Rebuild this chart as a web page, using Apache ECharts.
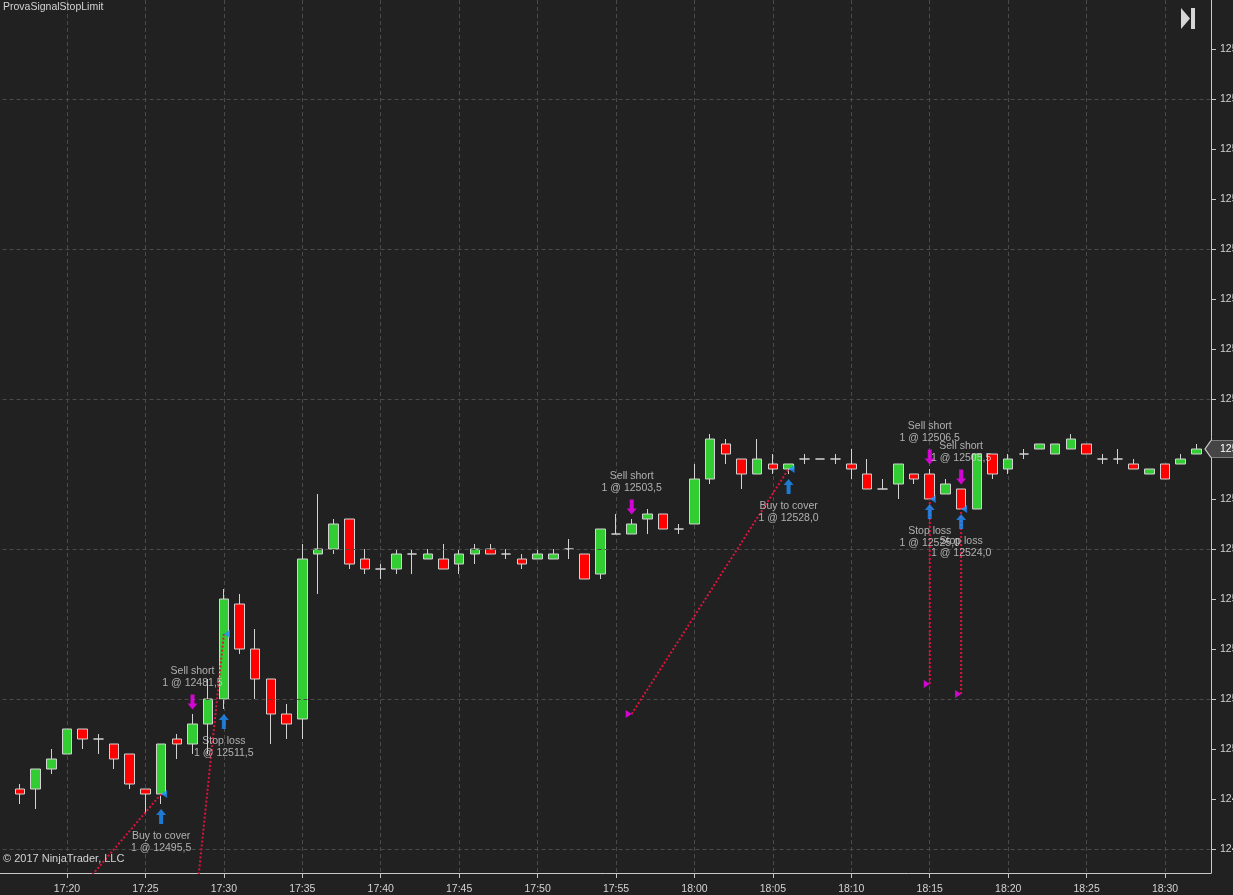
<!DOCTYPE html>
<html><head><meta charset="utf-8">
<script src="https://cdn.jsdelivr.net/npm/echarts@6/dist/echarts.min.js"></script>
<style>html,body{margin:0;padding:0;background:#212121;overflow:hidden}#c{width:1233px;height:895px}</style>
</head><body><div id="c"></div>
<script>
// ---- data ----
const times = ['17:17','17:18','17:19','17:20','17:21','17:22','17:23','17:24','17:25','17:26','17:27','17:28','17:29','17:30','17:31','17:32','17:33','17:34','17:35','17:36','17:37','17:38','17:39','17:40','17:41','17:42','17:43','17:44','17:45','17:46','17:47','17:48','17:49','17:50','17:51','17:52','17:53','17:54','17:55','17:56','17:57','17:58','17:59','18:00','18:01','18:02','18:03','18:04','18:05','18:06','18:07','18:08','18:09','18:10','18:11','18:12','18:13','18:14','18:15','18:16','18:17','18:18','18:19','18:20','18:21','18:22','18:23','18:24','18:25','18:26','18:27','18:28','18:29','18:30','18:31','18:32'];
const opens = [12496.0,12496.0,12498.0,12499.5,12502.0,12501.0,12500.5,12499.5,12496.0,12495.5,12501.0,12500.5,12502.5,12505.0,12514.5,12510.0,12507.0,12503.5,12503.0,12519.5,12520.0,12523.0,12519.0,12518.0,12518.0,12519.5,12519.0,12519.0,12518.5,12519.5,12520.0,12519.5,12519.0,12519.0,12519.0,12520.0,12519.5,12517.5,12521.5,12521.5,12523.0,12523.5,12522.0,12522.5,12527.0,12530.5,12529.0,12527.5,12528.5,12528.0,12529.0,12529.0,12529.0,12528.5,12527.5,12526.0,12526.5,12527.5,12527.5,12525.5,12526.0,12524.0,12529.5,12528.0,12529.5,12530.0,12529.5,12530.0,12530.5,12529.0,12529.0,12528.5,12527.5,12528.5,12528.5,12529.5];
const highs = [12496.5,12498.0,12500.0,12502.0,12502.0,12501.5,12500.5,12499.5,12496.0,12500.5,12501.5,12503.5,12507.0,12516.0,12515.5,12512.0,12507.0,12504.5,12520.5,12525.5,12523.0,12523.0,12520.0,12518.5,12520.0,12520.0,12520.0,12520.5,12520.0,12520.5,12520.5,12520.0,12519.5,12520.0,12520.0,12521.0,12519.5,12522.0,12523.5,12523.0,12524.0,12523.5,12522.5,12528.5,12531.5,12531.0,12529.0,12531.0,12529.5,12528.5,12529.5,12529.0,12529.5,12530.0,12529.0,12527.0,12528.5,12527.5,12528.0,12527.0,12526.0,12529.5,12529.5,12529.5,12530.0,12530.5,12530.5,12531.5,12530.5,12529.5,12530.0,12529.0,12528.0,12528.5,12529.5,12530.5];
const lows = [12494.5,12494.0,12497.5,12499.5,12500.0,12499.5,12498.0,12496.0,12493.5,12494.5,12499.0,12499.5,12499.5,12504.0,12509.5,12505.0,12500.5,12501.0,12501.0,12515.5,12519.5,12518.0,12517.5,12517.0,12517.5,12517.5,12519.0,12518.0,12517.5,12518.5,12519.5,12519.0,12518.0,12519.0,12519.0,12519.0,12517.0,12517.0,12521.5,12521.5,12521.5,12522.0,12521.5,12522.5,12526.5,12528.5,12526.0,12527.5,12527.5,12527.5,12528.5,12529.0,12528.5,12527.0,12526.0,12526.0,12525.0,12526.5,12525.0,12525.5,12524.0,12524.0,12527.0,12527.5,12529.0,12530.0,12529.5,12530.0,12529.5,12528.5,12528.5,12528.0,12527.5,12527.0,12528.5,12529.5];
const closes = [12495.5,12498.0,12499.0,12502.0,12501.0,12501.0,12499.0,12496.5,12495.5,12500.5,12500.5,12502.5,12505.0,12515.0,12510.0,12507.0,12503.5,12502.5,12519.0,12520.0,12522.5,12518.5,12518.0,12518.0,12519.5,12519.5,12519.5,12518.0,12519.5,12520.0,12519.5,12519.5,12518.5,12519.5,12519.5,12520.0,12517.0,12522.0,12521.5,12522.5,12523.5,12522.0,12522.0,12527.0,12531.0,12529.5,12527.5,12529.0,12528.0,12528.5,12529.0,12529.0,12529.0,12528.0,12526.0,12526.0,12528.5,12527.0,12525.0,12526.5,12524.0,12529.5,12527.5,12529.0,12529.5,12530.5,12530.5,12531.0,12529.5,12529.0,12529.0,12528.0,12528.0,12527.0,12529.0,12530.0];

// executions
const execTimes   = ['17:26','17:28','17:30','17:56','18:06','18:15','18:15','18:17','18:17'];
const execPrices  = [12495.5,12481.5,12511.5,12503.5,12528.0,12506.5,12525.0,12505.5,12524.0];
const execActions = ['Buy to cover','Sell short','Stop loss','Sell short','Buy to cover','Sell short','Stop loss','Sell short','Stop loss'];
const execSides   = ['buy','sell','buy','sell','buy','sell','buy','sell','buy'];

// trades (entry -> exit), first entry lies before the visible range (estimated)
const tradeEntryTimes  = ['17:15','17:28','17:56','18:15','18:17'];
const tradeEntryPrices = [12475.25,12481.5,12503.5,12506.5,12505.5];
const tradeExitTimes   = ['17:26','17:30','18:06','18:15','18:17'];
const tradeExitPrices  = [12495.5,12511.5,12528.0,12525.0,12524.0];

// horizontal grid levels
const hGridLevels = [12490,12505,12520,12535,12550,12565];

// ---- helpers ----
const FONT = 'Arial, "Liberation Sans", sans-serif';
const TXT = '#d3d3d3';
function toMin(t){const p=t.split(':');return (+p[0])*60+(+p[1]);}
function fmtTime(v){const h=Math.floor(v/60),m=Math.round(v-h*60);return h+':'+(m<10?'0':'')+m;}
function fmtPrice(p){return p.toFixed(1).replace('.',',');}
const idx = t => times.indexOf(t);

const candleData = times.map((t,i)=>[toMin(t),opens[i],closes[i],lows[i],highs[i]]);

const sellEx=[],buyEx=[];
execTimes.forEach((t,i)=>{
  const k=idx(t);
  const item={t:toMin(t),price:execPrices[i],action:execActions[i],hi:highs[k],lo:lows[k]};
  (execSides[i]==='sell'?sellEx:buyEx).push(item);
});

const X_MIN=1035, X_MAX=1112.93;
const GL=-11.43, GR=22;

const tradeSeries = tradeEntryTimes.map((t,i)=>({
  type:'line', xAxisIndex:1, yAxisIndex:1, z:5, silent:true, symbol:'none', clip:true,
  data:[[toMin(t),tradeEntryPrices[i]],[toMin(tradeExitTimes[i]),tradeExitPrices[i]]],
  lineStyle:{color:'#DC143C',width:2,type:[2,2]}
}));

const lastClose = closes[closes.length-1];

const option = {
  backgroundColor:'#212121',
  animation:false,
  textStyle:{fontFamily:FONT},
  title:[
    {text:'ProvaSignalStopLimit',left:3,top:2,padding:0,textStyle:{color:TXT,fontSize:10.5,fontWeight:'normal',fontFamily:FONT}},
    {text:'© 2017 NinjaTrader, LLC',left:3,top:853,padding:0,textStyle:{color:TXT,fontSize:11,fontWeight:'normal',fontFamily:FONT}}
  ],
  graphic:[
    {type:'polygon',shape:{points:[[1181,8],[1190,18.5],[1181,29]]},style:{fill:'#d6d6d6'}},
    {type:'rect',shape:{x:1191,y:8,width:4,height:21},style:{fill:'#d6d6d6'}}
  ],
  grid:[
    {left:GL,right:GR,top:-1,height:900,containLabel:false,outerBoundsMode:'none'},
    {left:GL,right:GR,top:0,height:873,containLabel:false,outerBoundsMode:'none'}
  ],
  xAxis:[
    {gridIndex:0,type:'value',min:X_MIN,max:X_MAX,show:false},
    {gridIndex:1,type:'value',min:X_MIN,max:X_MAX,interval:5,
     axisLine:{show:true,onZero:false,lineStyle:{color:'#c8c8c8',width:1}},
     axisTick:{show:true,length:5,lineStyle:{color:'#c8c8c8'}},
     axisLabel:{color:TXT,fontSize:10.5,fontFamily:FONT,margin:11,showMinLabel:false,showMaxLabel:false,formatter:v=>fmtTime(v)},
     splitLine:{show:true,lineStyle:{color:'#4a4a4a',type:[4,3],width:1}}}
  ],
  yAxis:[
    {gridIndex:0,type:'value',position:'right',min:12485,max:12575,interval:5,
     axisLine:{show:false},
     axisTick:{show:true,length:5,lineStyle:{color:'#c8c8c8'}},
     axisLabel:{color:TXT,fontSize:10.5,fontFamily:FONT,margin:9,showMinLabel:false,showMaxLabel:false,formatter:v=>v.toFixed(2).replace('.',',')},
     splitLine:{show:false}},
    {gridIndex:1,type:'value',position:'right',min:12487.6,max:12574.9,
     axisLine:{show:true,onZero:false,lineStyle:{color:'#c8c8c8',width:1}},
     axisTick:{show:false},axisLabel:{show:false},splitLine:{show:false}}
  ],
  series:[
    {type:'line',xAxisIndex:1,yAxisIndex:1,z:1,silent:true,symbol:'none',
     data:candleData.map(d=>[d[0],d[2]]),lineStyle:{opacity:0},
     markLine:{silent:true,symbol:['none','none'],label:{show:false},
       lineStyle:{color:'#4a4a4a',type:[4,3],width:1},
       data:hGridLevels.map(v=>({yAxis:v}))}},
    {type:'candlestick',xAxisIndex:1,yAxisIndex:1,z:2,barWidth:10,data:candleData,
     itemStyle:{color:'#32CD32',color0:'#FF0000',borderColor:'#d3d3d3',borderColor0:'#d3d3d3',borderColorDoji:'#d3d3d3',borderWidth:1},
     markPoint:{silent:true,symbol:'path://M0,8.5 L6,0 L40,0 L40,17 L6,17 Z',symbolSize:[40,17],symbolOffset:[14,0],
       itemStyle:{color:'#454545',borderColor:'#c8c8c8',borderWidth:1},
       label:{show:true,position:'inside',align:'left',offset:[-5,0],color:'#ffffff',fontSize:10.5,fontFamily:FONT,formatter:()=>fmtPrice(lastClose)},
       data:[{coord:[X_MAX,lastClose]}]}},
    ...tradeSeries,
    {type:'scatter',xAxisIndex:1,yAxisIndex:1,z:6,silent:true,
     symbol:'path://M0,0 L6,4 L0,8 Z',symbolSize:[6,8],symbolOffset:[-3,0],
     itemStyle:{color:'#FF00FF'},data:sellEx.map(e=>[e.t,e.price])},
    {type:'scatter',xAxisIndex:1,yAxisIndex:1,z:6,silent:true,
     symbol:'path://M6,0 L0,4 L6,8 Z',symbolSize:[6,8],symbolOffset:[3,0],
     itemStyle:{color:'#1E90FF'},data:buyEx.map(e=>[e.t,e.price])},
    {type:'scatter',xAxisIndex:1,yAxisIndex:1,z:6,silent:true,
     symbol:'path://M3,0 L7,0 L7,9 L10,9 L5,15 L0,9 L3,9 Z',symbolSize:[10,15],symbolOffset:[0,-12],
     itemStyle:{color:'#FF00FF'},data:sellEx.map(e=>[e.t,e.hi])},
    {type:'scatter',xAxisIndex:1,yAxisIndex:1,z:6,silent:true,
     symbol:'path://M5,0 L10,6 L7,6 L7,15 L3,15 L3,6 L0,6 Z',symbolSize:[10,15],symbolOffset:[0,12.5],
     itemStyle:{color:'#1E90FF'},data:buyEx.map(e=>[e.t,e.lo])},
    {type:'scatter',xAxisIndex:1,yAxisIndex:1,z:7,silent:true,symbolSize:1,itemStyle:{color:'rgba(0,0,0,0)'},
     label:{show:true,position:'inside',offset:[0,-37],color:TXT,fontSize:10.5,lineHeight:12,fontFamily:FONT,align:'center',
       formatter:p=>p.data.action+'\n1 @ '+fmtPrice(p.data.price)},
     data:sellEx.map(e=>({value:[e.t,e.hi],action:e.action,price:e.price}))},
    {type:'scatter',xAxisIndex:1,yAxisIndex:1,z:7,silent:true,symbolSize:1,itemStyle:{color:'rgba(0,0,0,0)'},
     label:{show:true,position:'inside',offset:[0,38],color:TXT,fontSize:10.5,lineHeight:12,fontFamily:FONT,align:'center',
       formatter:p=>p.data.action+'\n1 @ '+fmtPrice(p.data.price)},
     data:buyEx.map(e=>({value:[e.t,e.lo],action:e.action,price:e.price}))}
  ]
};
const chart = echarts.init(document.getElementById('c'),null,{renderer:'canvas'});
chart.setOption(option);
</script></body></html>
